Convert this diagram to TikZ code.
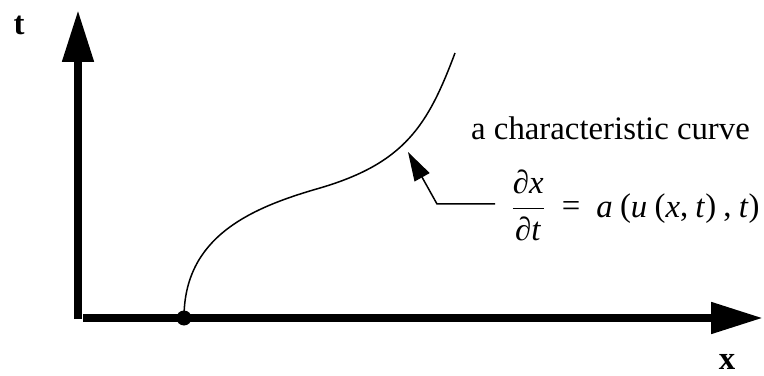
\documentclass[tikz,border=0pt]{standalone}
\usepackage{amsmath}
\usepackage{fontspec}
\setmainfont{Liberation Serif}
\usepackage{tikz}
\usetikzlibrary{arrows.meta, positioning, calc}
\newcommand{\lblfont}{\fontsize{16.4pt}{20pt}\selectfont}
\newcommand{\eqsp}{\hspace{3.6pt}}

\begin{document}
\begin{tikzpicture}[x=0.5pt, y=0.5pt,
    axis/.style={line width=4pt, -{Triangle[length=26pt, width=15pt]}},
    thinline/.style={line width=0.75pt},
    leader/.style={line width=0.75pt, -{Triangle[length=14.5pt, width=8.5pt]}}]
    \useasboundingbox (0,0) rectangle (764,375);

    % Axes
    \coordinate (O) at (78,56);
    \coordinate (ttip) at (78,365);
    \coordinate (xstart) at (83,57);
    \coordinate (xtip) at (763,57);
    \draw[axis] (O) -- (ttip);
    \draw[axis] (xstart) -- (xtip);
    \node[font=\lblfont\bfseries] (tlabel) at (19,350) {t};
    \node[font=\lblfont\bfseries] (xlabel) at (727,13) {x};

    % Foot of the characteristic
    \node[circle, fill, inner sep=0pt, minimum size=7.5pt] (x0) at (184,57) {};

    % Characteristic curve
    \draw[thinline] (x0.center) .. controls (184,138) and (250,167) .. (320,187)
        .. controls (405,212) and (428,250) .. (455,322);

    % Labels
    \node[font=\lblfont, anchor=base] (name) at (610.5,235) {a characteristic curve};
    \node[font=\lblfont, anchor=base west, inner sep=0pt] (eq) at (510,158)
        {$\dfrac{\text{∂\textit{x}}}{\text{∂\textit{t}}}$\hspace{8pt}=\hspace{8pt}\textit{a}\eqsp(\textit{u}\eqsp(\textit{x},\eqsp\textit{t})\eqsp,\eqsp\textit{t})};

    % Leader to the curve
    \coordinate (lstart) at (495,171);
    \coordinate (kink) at (437,171);
    \coordinate (tip) at (408,223);
    \draw[leader] (lstart) -- (kink) -- (tip);
\end{tikzpicture}
\end{document}
